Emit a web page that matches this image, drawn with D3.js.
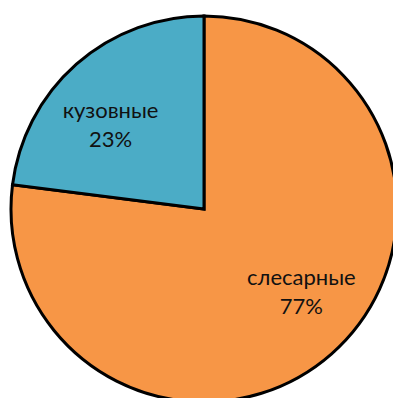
<!DOCTYPE html>
<html>
<head>
<meta charset="utf-8">
<script src="https://cdn.jsdelivr.net/npm/d3@7"></script>
<style>
  html, body { margin: 0; padding: 0; background: #ffffff; }
  svg { display: block; }
</style>
</head>
<body>
<svg id="chart" width="393" height="398"></svg>
<script>
// Доля работ по типам
const categories = ["слесарные", "кузовные"];
const values = [77, 23];
const percentLabels = ["77%", "23%"];
const colors = ["#F79646", "#4BACC6"];

const svg = d3.select("#chart");
const cx = 204, cy = 209, radius = 193;

const g = svg.append("g").attr("transform", `translate(${cx},${cy})`);

const pie = d3.pie().sort(null).value(d => d.value);
const data = categories.map((c, i) => ({ name: c, value: values[i], pct: percentLabels[i], color: colors[i] }));
const arcs = pie(data);

const arc = d3.arc().innerRadius(0).outerRadius(radius);

g.selectAll("path.slice")
  .data(arcs)
  .join("path")
  .attr("class", "slice")
  .attr("d", arc)
  .attr("fill", d => d.data.color)
  .attr("stroke", "#000")
  .attr("stroke-width", 3)
  .attr("stroke-linejoin", "miter");

// label anchor: centroid of a ring, stretched toward the horizontal
const labelArc = d3.arc().innerRadius(radius * 0.65).outerRadius(radius * 0.65);

const labels = g.selectAll("g.label")
  .data(arcs)
  .join("g")
  .attr("class", "label")
  .attr("transform", d => {
    const [x, y] = labelArc.centroid(d);
    return `translate(${x * 1.15 + 2},${y * 0.89 - 3.5})`;
  });

const fontFamily = "Lato, 'Open Sans', sans-serif";
labels.append("text")
  .attr("text-anchor", "middle")
  .attr("y", -4)
  .attr("font-family", fontFamily)
  .attr("font-size", 22)
  .attr("fill", "#111")
  .text(d => d.data.name);

labels.append("text")
  .attr("text-anchor", "middle")
  .attr("y", 25)
  .attr("font-family", fontFamily)
  .attr("font-size", 22)
  .attr("fill", "#111")
  .text(d => d.data.pct);
</script>
</body>
</html>
